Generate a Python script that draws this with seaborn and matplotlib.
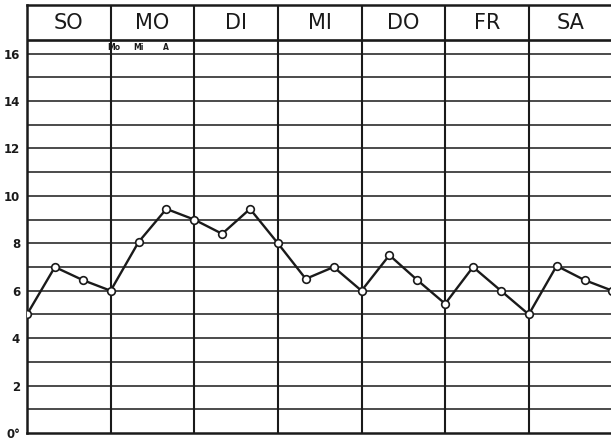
import numpy as np
import pandas as pd
import seaborn as sns
import matplotlib.pyplot as plt

# Temperature readings, three per day (Mo, Mi, A)
days = ["SO", "MO", "DI", "MI", "DO", "FR", "SA"]
slots = ["Mo", "Mi", "A"]
temps = [5.0, 7.0, 6.45,
         6.0, 8.05, 9.45,
         9.0, 8.4, 9.45,
         8.0, 6.5, 7.0,
         6.0, 7.5, 6.45,
         5.45, 7.0, 6.0,
         5.0, 7.05, 6.45,
         6.0]  # next Sunday morning, runs off the edge
y_ticks = [0, 2, 4, 6, 8, 10, 12, 14, 16]
y_labels = ["0°", "2", "4", "6", "8", "10", "12", "14", "16"]

df = pd.DataFrame({"reading": np.arange(len(temps)), "temp": temps})

sns.set_style("white")
plt.rcParams['font.family'] = ['DejaVu Sans']

W, H = 611, 441
fig = plt.figure(figsize=(W / 100, H / 100), dpi=100)
ax = fig.add_axes([27 / W, 8 / H, (611 - 27) / W, (433 - 5) / H])

ymax = 18.05
xmax = 20.95
ax.set_xlim(0, xmax)
ax.set_ylim(0, ymax)

ink = "#1a1a1a"
# horizontal grid, one line per degree
for v in range(1, 17):
    ax.axhline(v, color=ink, lw=1.1, zorder=1)
# header bottom line
ax.axhline(16.56, color=ink, lw=1.9, zorder=1)
# day separators
for i in range(1, len(days)):
    ax.axvline(3 * i, color=ink, lw=1.5, zorder=1)

sns.lineplot(data=df, x="reading", y="temp", ax=ax, color=ink, lw=1.7,
             marker="o", markersize=5.5, markerfacecolor="white",
             markeredgecolor=ink, markeredgewidth=1.2, zorder=3)

# day names in header boxes
for i, d in enumerate(days):
    ax.text(3 * i + 1.5, 17.3, d, ha="center", va="center",
            fontsize=15, color=ink)

# sub labels under MO
for j, s in enumerate(slots):
    ax.text(3 + j + (0.12 if j == 0 else 0), 16.27, s, ha="center",
            va="center", fontsize=5.5, fontweight="bold", color=ink)

ax.set_yticks(y_ticks)
ax.set_yticklabels(y_labels, fontsize=8.5, fontweight="bold", color=ink)
ax.set_xticks([])
ax.tick_params(axis="y", length=0, pad=5)
ax.set_xlabel("")
ax.set_ylabel("")

for side in ["left", "top", "bottom"]:
    ax.spines[side].set_color(ink)
    ax.spines[side].set_linewidth(1.8)
ax.spines["right"].set_visible(False)

fig.savefig("out.png", dpi=100)
